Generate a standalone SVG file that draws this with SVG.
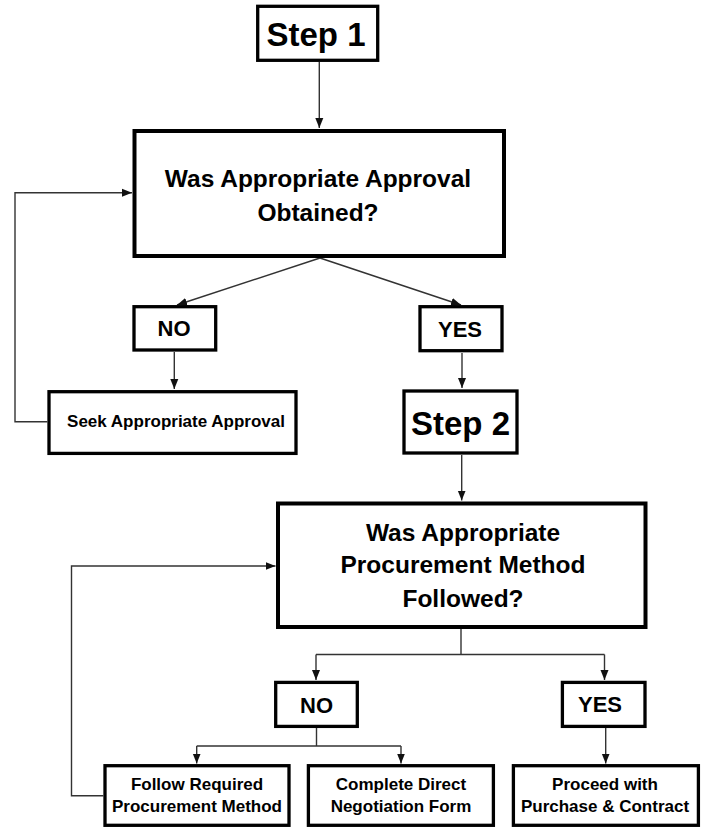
<svg xmlns="http://www.w3.org/2000/svg" width="708" height="829" viewBox="0 0 708 829">
<style>
.box{fill:#fff;stroke:#000;stroke-width:3.3}
.big{fill:#fff;stroke:#000;stroke-width:4}
.t{font-family:"Liberation Sans",Arial,sans-serif;font-weight:bold;fill:#000;text-anchor:middle}
.step{font-size:33px}
.q{font-size:24.5px}
.yn{font-size:22px}
.sm{font-size:17px}
.c{fill:none;stroke:#333;stroke-width:1.4}
</style>
<defs>
<marker id="ah" markerUnits="userSpaceOnUse" markerWidth="10" markerHeight="10" viewBox="0 0 10 10" refX="10" refY="5" orient="auto">
<path d="M0,1 L10,5 L0,9 Z" fill="#111"/>
</marker>
</defs>
<rect width="708" height="829" fill="#fff"/>
<g id="connectors">
<path class="c" d="M319.3,62 V128" marker-end="url(#ah)"/>
<path class="c" d="M320,258 L177,305" marker-end="url(#ah)"/>
<path class="c" d="M320,258 L461,305" marker-end="url(#ah)"/>
<path class="c" d="M174.3,352 V389" marker-end="url(#ah)"/>
<path class="c" d="M462,353 V388" marker-end="url(#ah)"/>
<path class="c" d="M47.3,421.7 H15 V192.7 H132" marker-end="url(#ah)"/>
<path class="c" d="M461.7,455 V500.5" marker-end="url(#ah)"/>
<path class="c" d="M461,629 V654.5"/>
<path class="c" d="M316,654.5 H604.5"/>
<path class="c" d="M316,654.5 V680" marker-end="url(#ah)"/>
<path class="c" d="M604.5,654.5 V680" marker-end="url(#ah)"/>
<path class="c" d="M316.5,728 V746"/>
<path class="c" d="M196.7,746 H401"/>
<path class="c" d="M196.7,746 V763.5" marker-end="url(#ah)"/>
<path class="c" d="M401,746 V763.5" marker-end="url(#ah)"/>
<path class="c" d="M605.7,728 V763.5" marker-end="url(#ah)"/>
<path class="c" d="M103.3,795.7 H71.5 V566 H275.5" marker-end="url(#ah)"/>
</g>
<g id="step1">
<rect class="box" x="257.7" y="6.3" width="120" height="54"/>
<text class="t step" x="316" y="46">Step 1</text>
</g>
<g id="q1">
<rect class="big" x="134.5" y="131" width="369.5" height="125"/>
<text class="t q" x="318" y="187">Was Appropriate Approval</text>
<text class="t q" x="318" y="220.7">Obtained?</text>
</g>
<g id="no1">
<rect class="box" x="134" y="306.7" width="81.7" height="43.3"/>
<text class="t yn" x="174" y="336">NO</text>
</g>
<g id="yes1">
<rect class="box" x="420" y="306.7" width="82" height="44"/>
<text class="t yn" x="460" y="337.3">YES</text>
</g>
<g id="seek">
<rect class="box" x="49" y="391.7" width="247" height="61.7"/>
<text class="t sm" x="176" y="427.3">Seek Appropriate Approval</text>
</g>
<g id="step2">
<rect class="box" x="404" y="391" width="113" height="62"/>
<text class="t step" x="460.5" y="435">Step 2</text>
</g>
<g id="q2">
<rect class="big" x="278" y="503.5" width="367.5" height="123.5"/>
<text class="t q" x="463" y="541">Was Appropriate</text>
<text class="t q" x="463" y="573">Procurement Method</text>
<text class="t q" x="463" y="607">Followed?</text>
</g>
<g id="no2">
<rect class="box" x="275.7" y="682.4" width="81.6" height="44"/>
<text class="t yn" x="316.5" y="712.7">NO</text>
</g>
<g id="yes2">
<rect class="box" x="562.4" y="682.4" width="82.6" height="44"/>
<text class="t yn" x="600" y="712.3">YES</text>
</g>
<g id="follow">
<rect class="box" x="105" y="765.7" width="184" height="59.6"/>
<text class="t sm" x="197" y="790">Follow Required</text>
<text class="t sm" x="197" y="811.7">Procurement Method</text>
</g>
<g id="complete">
<rect class="box" x="308.4" y="765.7" width="185" height="59.6"/>
<text class="t sm" x="401" y="790">Complete Direct</text>
<text class="t sm" x="401" y="811.7">Negotiation Form</text>
</g>
<g id="proceed">
<rect class="box" x="513.4" y="765.7" width="185" height="59.6"/>
<text class="t sm" x="605" y="790">Proceed with</text>
<text class="t sm" x="605" y="811.7">Purchase &amp; Contract</text>
</g>
</svg>
